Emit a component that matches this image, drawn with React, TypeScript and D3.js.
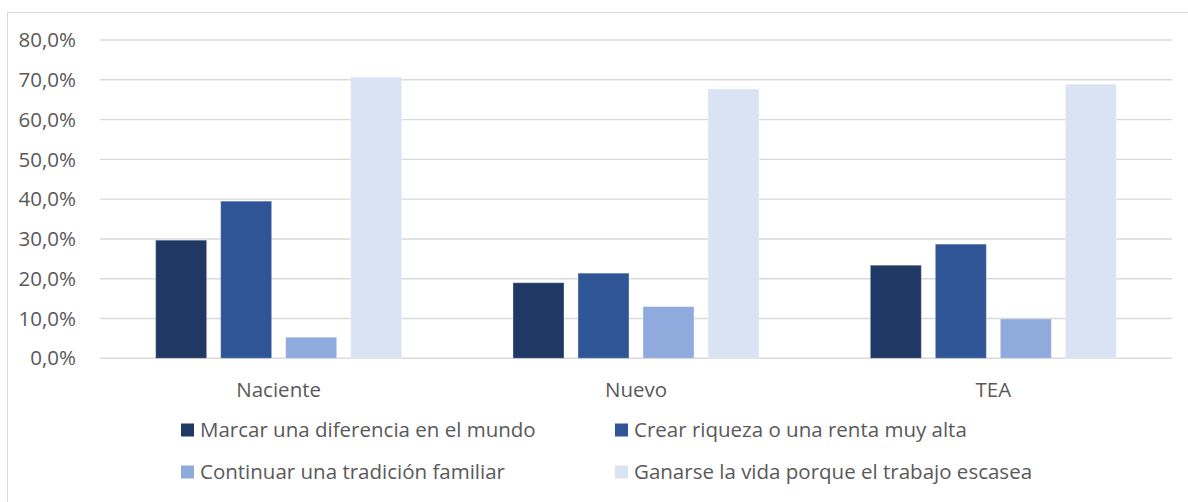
import React from "react";
import * as d3 from "d3";

const categories = ["Naciente", "Nuevo", "TEA"];
const seriesNames = [
  "Marcar una diferencia en el mundo",
  "Crear riqueza o una renta muy alta",
  "Continuar una tradición familiar",
  "Ganarse la vida porque el trabajo escasea",
];
const marcar = [29.7, 19.0, 23.4];
const crear = [39.5, 21.4, 28.7];
const continuar = [5.3, 13.0, 9.9];
const ganarse = [70.7, 67.7, 68.9];
const yTicks = [0, 10, 20, 30, 40, 50, 60, 70, 80];

const colors = ["#203864", "#2f5597", "#8faadc", "#dae3f3"];
const values = [marcar, crear, continuar, ganarse];

const W = 1188;
const H = 502;
const FONT = "'Open Sans', 'Noto Sans', sans-serif";
const TEXT = "#595959";
const FS = 20.5;

export default function App() {
  const x0 = d3.scaleBand<string>().domain(categories).range([100, 1172]);
  const x1 = d3
    .scaleBand<string>()
    .domain(seriesNames)
    .range([0, x0.bandwidth()])
    .paddingInner(0.215)
    .paddingOuter(0.856);
  const y = d3.scaleLinear().domain([0, 80]).range([358.3, 40]);
  const fmt = (v: number) => d3.format(".1f")(v).replace(".", ",") + "%";

  // legend: 2 columns x 2 rows
  const legendX = [181, 615];
  const legendY = [430, 472];

  return (
    <svg
      width={W}
      height={H}
      style={{ position: "absolute", left: 0, top: 0, background: "#fff" }}
      fontFamily={FONT}
    >
      <rect x={7.5} y={12.5} width={1200} height={520} fill="#fff" stroke="#d9d9d9" />

      {yTicks.map((t) => (
        <g key={t}>
          <line x1={100} x2={1172} y1={y(t)} y2={y(t)} stroke="#d9d9d9" strokeWidth={1.4} />
          <text x={76} y={y(t)} dy="0.35em" textAnchor="end" fontSize={FS} fill={TEXT}>
            {fmt(t)}
          </text>
        </g>
      ))}

      {categories.map((c, ci) => (
        <g key={c} transform={`translate(${x0(c)},0)`}>
          {seriesNames.map((s, si) => (
            <rect
              key={s}
              x={x1(s)}
              y={y(values[si][ci])}
              width={x1.bandwidth()}
              height={y(0) - y(values[si][ci])}
              fill={colors[si]}
              stroke="#ffffff"
              strokeOpacity={0.35}
              strokeWidth={1}
            />
          ))}
          <text
            x={x0.bandwidth() / 2}
            y={397}
            textAnchor="middle"
            fontSize={FS}
            fill={TEXT}
          >
            {c}
          </text>
        </g>
      ))}

      {seriesNames.map((s, i) => {
        const lx = legendX[i % 2];
        const ly = legendY[Math.floor(i / 2)];
        return (
          <g key={s} transform={`translate(${lx},${ly})`}>
            <rect x={0} y={-6.5} width={13} height={13} fill={colors[i]} />
            <text x={19} y={0} dy="0.35em" fontSize={FS} fill={TEXT}>
              {s}
            </text>
          </g>
        );
      })}
    </svg>
  );
}
